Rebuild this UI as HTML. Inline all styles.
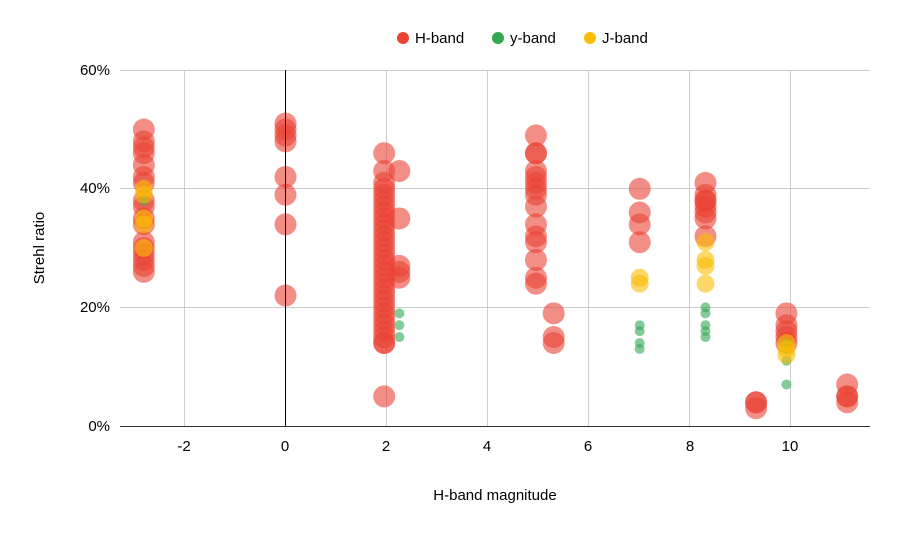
<!DOCTYPE html>
<html><head><meta charset="utf-8"><style>
body{margin:0;background:#fff;}
svg text{font-family:"Liberation Sans",Arial,sans-serif;}
</style></head><body>
<svg id="s" width="897" height="531" viewBox="0 0 897 531" xmlns="http://www.w3.org/2000/svg">
<rect width="897" height="531" fill="#fff"/>
<g stroke="#cccccc" stroke-width="1">
<line x1="120" y1="70.5" x2="870" y2="70.5"/>
<line x1="120" y1="188.5" x2="870" y2="188.5"/>
<line x1="120" y1="307.5" x2="870" y2="307.5"/>
<line x1="184.5" y1="70" x2="184.5" y2="426"/>
<line x1="386.5" y1="70" x2="386.5" y2="426"/>
<line x1="487.5" y1="70" x2="487.5" y2="426"/>
<line x1="588.5" y1="70" x2="588.5" y2="426"/>
<line x1="689.5" y1="70" x2="689.5" y2="426"/>
<line x1="790.5" y1="70" x2="790.5" y2="426"/>
</g>
<g id="pts"></g>
<line x1="285.5" y1="70" x2="285.5" y2="426" stroke="#000" stroke-width="1"/>
<line x1="120" y1="426.5" x2="870" y2="426.5" stroke="#333" stroke-width="1"/>
<g font-size="15" fill="#000" text-anchor="end">
<text x="110" y="75">60%</text><text x="110" y="193">40%</text>
<text x="110" y="312">20%</text><text x="110" y="431">0%</text>
</g>
<g font-size="15" fill="#000" text-anchor="middle">
<text x="184" y="451">-2</text><text x="285" y="451">0</text><text x="386" y="451">2</text>
<text x="487" y="451">4</text><text x="588" y="451">6</text><text x="690" y="451">8</text>
<text x="790" y="451">10</text>
<text x="495" y="500">H-band magnitude</text>
<text transform="translate(44,248) rotate(-90)">Strehl ratio</text>
</g>
<circle cx="403" cy="38" r="6" fill="#ea4335"/><text x="415" y="43" font-size="15">H-band</text>
<circle cx="498" cy="38" r="6" fill="#34a853"/><text x="510" y="43" font-size="15">y-band</text>
<circle cx="590" cy="38" r="6" fill="#fbbc04"/><text x="602" y="43" font-size="15">J-band</text>
</svg>
<script>
var g=document.getElementById('pts');
function X(v){return 285.5+v*50.6;}function Y(p){return 426-p*5.93;}
function add(x,arr,col,r,op){arr.forEach(function(p){var c=document.createElementNS('http://www.w3.org/2000/svg','circle');c.setAttribute('cx',X(x));c.setAttribute('cy',Y(p));c.setAttribute('r',r);c.setAttribute('fill',col);c.setAttribute('fill-opacity',op);g.appendChild(c);});}
var R='#ea4335',G='#34a853',J='#fbbc04';
add(-2.8,[50,48,47,46,44,42,41,38,37,35,34,31,30,29,28,27,26],R,11,0.6);
add(0,[51,50,49,48,42,39,34,22],R,11,0.6);
add(1.95,[46,43,41,40,39,38,37,36,35,34,33,32,31,30,29,28,27,26,25,24,23,22,21,20,19,18,17,16,15,14,14,5],R,11,0.6);
add(2.25,[43,35,27,26,25],R,11,0.6);
add(4.95,[49,46,46,43,42,41,40,39,37,34,32,31,28,25,24],R,11,0.6);
add(5.3,[19,15,14],R,11,0.6);
add(7,[40,36,34,31],R,11,0.6);
add(8.3,[41,39,38,38,37,36,35,32],R,11,0.6);
add(9.3,[4,3,4],R,11,0.6);
add(9.9,[19,17,16,15,14],R,11,0.6);
add(11.1,[7,5,4,5],R,11,0.6);
add(-2.8,[38],G,5,0.6);
add(2.25,[19,17,15],G,5,0.6);
add(7,[17,16,14,13],G,5,0.6);
add(8.3,[20,19,17,16,15],G,5,0.6);
add(9.9,[14,13,11,7],G,5,0.6);
add(-2.8,[40,39,35,34,30],J,9,0.6);
add(7,[25,24],J,9,0.6);
add(8.3,[31,28,27,24],J,9,0.6);
add(9.9,[14,13,12],J,9,0.6);
</script>
</body></html>
